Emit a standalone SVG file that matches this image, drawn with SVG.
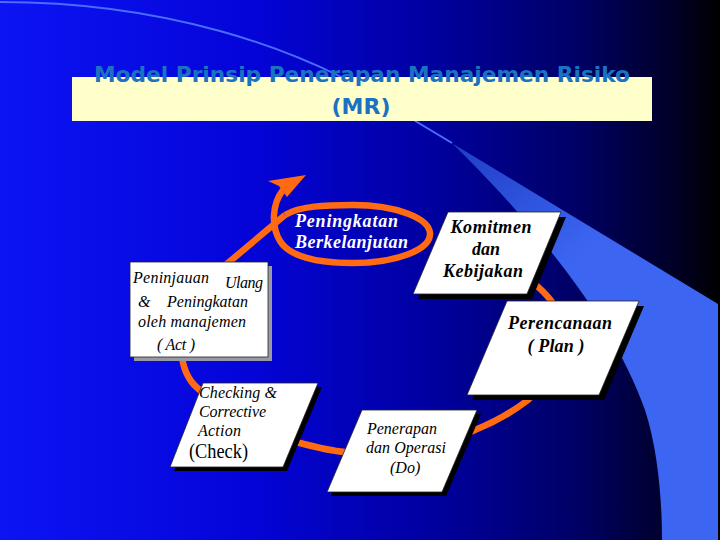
<svg xmlns="http://www.w3.org/2000/svg" width="720" height="540" viewBox="0 0 720 540">
<defs>
<linearGradient id="bg" x1="0" y1="0" x2="1" y2="0">
<stop offset="0" stop-color="#0c14f4"/>
<stop offset="0.35" stop-color="#0404d8"/>
<stop offset="0.6" stop-color="#0000a0"/>
<stop offset="0.8" stop-color="#000066"/>
<stop offset="0.93" stop-color="#00002a"/>
<stop offset="1" stop-color="#000000"/>
</linearGradient>
<linearGradient id="band" gradientUnits="userSpaceOnUse" x1="450" y1="140" x2="570" y2="270">
<stop offset="0" stop-color="#1e3cc4"/>
<stop offset="1" stop-color="#3c66f2"/>
</linearGradient>
<style>
.box{fill:#ffffff;stroke:#222;stroke-width:0.8}
.shadow{fill:#000000}
.gshadow{fill:#9a9aa6}
.it{font-family:"Liberation Serif","Times New Roman",serif;font-style:italic;font-size:16px;fill:#000}
.bi{font-family:"Liberation Serif","Times New Roman",serif;font-style:italic;font-weight:bold;font-size:18px;fill:#000}
.wbi{font-family:"Liberation Serif","Times New Roman",serif;font-style:italic;font-weight:bold;font-size:18px;fill:#ffffff}
.title{font-family:"DejaVu Sans",Verdana,sans-serif;font-weight:bold;font-size:22px;fill:#1b72c2}
.cyc{fill:none;stroke:#ff6a13;stroke-width:6.5;stroke-linecap:butt}
</style>
</defs>
<rect x="0" y="0" width="720" height="540" fill="url(#bg)"/>
<path d="M 417,122 L 718,304 L 718,540 L 662,540 C 662,500 658,450 645,410 C 610,310 520,210 450,141 Z" fill="url(#band)"/>
<path d="M 0,2 C 150,2 300,40 417,122 L 452,143" fill="none" stroke="#4a6cff" stroke-width="2"/>
<g id="title">
<rect x="72" y="77" width="580" height="44" fill="#ffffcc"/>
<text class="title" x="362" y="82" text-anchor="middle" textLength="536" lengthAdjust="spacingAndGlyphs">Model  Prinsip Penerapan Manajemen Risiko</text>
<text class="title" x="361" y="114" text-anchor="middle">(MR)</text>
</g>
<g id="connectors">
<path class="cyc" d="M 285,215 L 222,268 C 195,292 180,325 182,357 C 184,372 190,383 201,391 C 230,415 265,436 296,442 C 315,447 330,451 345,452 C 390,454 440,446 475,430 C 500,420 515,410 528,400 C 560,370 568,330 552,302 C 547,295 540,288 530,280"/>
<path class="cyc" d="M 285,215 C 300,206 325,205 353,205 A 77 29 0 0 1 430,234 A 77 29 0 0 1 353,263 C 318,263 290,257 280,241 C 271,226 272,204 283,190"/>
<polygon points="306,175 268,181 279,186 287,197" fill="#ff6a13"/>
</g>
<g id="node-improvement">
<text class="wbi" x="295" y="227" textLength="103" lengthAdjust="spacing">Peningkatan</text>
<text class="wbi" x="295" y="248" textLength="113" lengthAdjust="spacing">Berkelanjutan</text>
</g>
<g id="node-act">
<rect class="gshadow" x="134" y="266" width="138" height="95"/>
<rect class="box" x="130" y="262" width="138" height="95"/>
<text class="it" x="133" y="283" textLength="76" lengthAdjust="spacing">Peninjauan</text>
<text class="it" x="225" y="288" textLength="38" lengthAdjust="spacing">Ulang</text>
<text class="it" x="138" y="307">&amp;</text>
<text class="it" x="167" y="307" textLength="81" lengthAdjust="spacing">Peningkatan</text>
<text class="it" x="138" y="327" textLength="108" lengthAdjust="spacing">oleh manajemen</text>
<text class="it" x="157" y="350" textLength="38" lengthAdjust="spacing">( Act )</text>
</g>
<g id="node-komitmen">
<polygon class="shadow" points="453,217 566,217 532,299 418,299"/>
<polygon class="box" points="448,212 561,212 527,294 413,294"/>
<text class="bi" x="491" y="233" text-anchor="middle" textLength="81" lengthAdjust="spacing">Komitmen</text>
<text class="bi" x="486" y="255" text-anchor="middle">dan</text>
<text class="bi" x="483" y="277" text-anchor="middle" textLength="80" lengthAdjust="spacing">Kebijakan</text>
</g>
<g id="node-plan">
<polygon class="shadow" points="512,306 644,306 604,400 472,400"/>
<polygon class="box" points="507,301 639,301 599,395 467,395"/>
<text class="bi" x="560" y="329" text-anchor="middle" textLength="104" lengthAdjust="spacing">Perencanaan</text>
<text class="bi" x="556" y="352" text-anchor="middle" textLength="57" lengthAdjust="spacing">( Plan )</text>
</g>
<g id="node-do">
<polygon class="shadow" points="366,414 481,414 446,496 331,496"/>
<polygon class="box" points="362,410 477,410 442,492 327,492"/>
<text class="it" x="367" y="434" textLength="70" lengthAdjust="spacing">Penerapan</text>
<text class="it" x="366" y="453" textLength="80" lengthAdjust="spacing">dan Operasi</text>
<text class="it" x="390" y="473">(Do)</text>
</g>
<g id="node-check">
<polygon class="shadow" points="207,387 322,387 287,471 174,471"/>
<polygon class="box" points="203,383 318,383 283,467 170,467"/>
<text class="it" x="199" y="398" textLength="78" lengthAdjust="spacing">Checking &amp;</text>
<text class="it" x="199" y="417" textLength="67" lengthAdjust="spacing">Corrective</text>
<text class="it" x="198" y="436" textLength="43" lengthAdjust="spacing">Action</text>
<text x="189" y="458" font-family="Liberation Serif, Times New Roman, serif" font-size="20" textLength="59" lengthAdjust="spacingAndGlyphs">(Check)</text>
</g>
</svg>
